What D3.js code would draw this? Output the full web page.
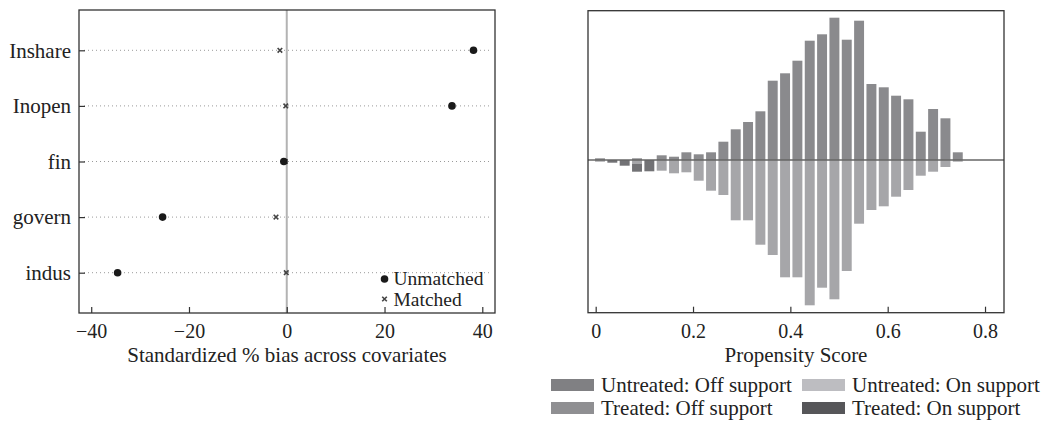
<!DOCTYPE html>
<html>
<head>
<meta charset="utf-8">
<script src="https://cdn.jsdelivr.net/npm/d3@7"></script>
<style>
    body { margin: 0; background: #fff; }
    text { font-family: "Liberation Serif", "Times New Roman", serif; fill: #222; }
    .axis .domain { display: none; }
    .axis line { stroke: #333; stroke-width: 1.2; }
    .axis text { font-size: 20px; fill: #222; }
</style>
</head>
<body>
<div id="chart"></div>
<script>

// left panel: standardized bias before / after matching
let covariates = ["Inshare", "Inopen", "fin", "govern", "indus"];
let unmatched = [38.2, 33.8, -0.6, -25.4, -34.6];
let matched = [-1.4, -0.2, -0.3, -2.2, -0.1];
let biasTicks = [-40, -20, 0, 20, 40];

// right panel: propensity score histogram (30 bins)
let binStart = -0.0038;
let binWidth = 0.02535;
let untreated = [1.7, 0, 0, 1.7, 0, 4.7, 3.3, 7.7, 5.7, 7.7, 18.3, 30.7, 38, 48.7, 79.3,
    86.7, 99.3, 119.3, 125.7, 142.3, 120.3, 139.3, 76, 72.7, 64.3, 60.7, 28.3, 51, 41.7, 7.7];
let treatedOff = [1.7, 0, 0, 4, 0, 10.7, 13.3, 12.3, 20.7, 30.7, 35, 60.3, 60.3, 84.7, 95,
    117.3, 117.3, 145.3, 127.7, 139.3, 111, 63.7, 50, 46.3, 36.7, 30, 15.7, 11.7, 7, 1.7];
let treatedOn = [0, 2.7, 5.7, 7.7, 11.3, 0, 0, 0, 0, 0, 0, 0, 0, 0, 0,
    0, 0, 0, 0, 0, 0, 0, 0, 0, 0, 0, 0, 0, 0, 0];
let scoreTicks = [0, 0.2, 0.4, 0.6, 0.8];
let legendLabels = ["Untreated: Off support", "Untreated: On support", "Treated: Off support", "Treated: On support"];
let legendColors = ["#808083", "#bdbdc1", "#8f8f92", "#565659"];

let svg = d3.select("#chart").append("svg")
    .attr("width", 1045)
    .attr("height", 421);


class BiasPlot {

    constructor(svg) {
        this.svg = svg;
        this.initVis();
    }

    initVis() {
        let vis = this;
        vis.left = 79; vis.right = 495; vis.top = 10; vis.bottom = 313;

        vis.x = d3.scaleLinear()
            .domain([-42.5, 42.6])
            .range([vis.left, vis.right]);
        vis.y = d3.scalePoint()
            .domain(covariates)
            .range([vis.top, vis.bottom])
            .padding(0.725);

        vis.g = vis.svg.append("g");

        // zero reference line
        vis.g.append("line")
            .attr("x1", vis.x(0)).attr("x2", vis.x(0))
            .attr("y1", vis.top).attr("y2", vis.bottom)
            .attr("stroke", "#b3b3b3")
            .attr("stroke-width", 2);

        // dotted guide per covariate
        vis.g.selectAll(".guide").data(covariates).enter().append("line")
            .attr("class", "guide")
            .attr("x1", vis.left + 5).attr("x2", vis.right - 3)
            .attr("y1", d => vis.y(d)).attr("y2", d => vis.y(d))
            .attr("stroke", "#9a9a9a")
            .attr("stroke-width", 1)
            .attr("stroke-dasharray", "1,3");

        vis.g.append("g")
            .attr("class", "axis")
            .attr("transform", `translate(0, ${vis.bottom})`)
            .call(d3.axisBottom(vis.x).tickValues(biasTicks).tickSize(-6).tickPadding(11));
        vis.g.append("g")
            .attr("class", "axis y-axis")
            .attr("transform", `translate(${vis.left}, 0)`)
            .call(d3.axisLeft(vis.y).tickSize(-6).tickPadding(8));
        vis.g.selectAll(".y-axis text").style("font-size", "21px");

        vis.g.append("rect")
            .attr("x", vis.left).attr("y", vis.top)
            .attr("width", vis.right - vis.left).attr("height", vis.bottom - vis.top)
            .attr("fill", "none").attr("stroke", "#333").attr("stroke-width", 1.3);

        vis.g.append("text")
            .attr("x", (vis.left + vis.right) / 2)
            .attr("y", 362)
            .attr("text-anchor", "middle")
            .style("font-size", "21px")
            .text("Standardized % bias across covariates");

        vis.updateVis();
    }

    cross(sel, cx, cy, s) {
        sel.append("path")
            .attr("d", `M${cx - s},${cy - s}L${cx + s},${cy + s}M${cx - s},${cy + s}L${cx + s},${cy - s}`)
            .attr("stroke", "#444")
            .attr("stroke-width", 1.6);
    }

    updateVis() {
        let vis = this;

        covariates.forEach((c, i) => {
            vis.cross(vis.g, vis.x(matched[i]), vis.y(c), 2.3);
        });
        vis.g.selectAll(".dot").data(covariates).enter().append("circle")
            .attr("class", "dot")
            .attr("cx", (d, i) => vis.x(unmatched[i]))
            .attr("cy", d => vis.y(d))
            .attr("r", 3.8)
            .attr("fill", "#1a1a1a");

        // legend (rows kept just far enough apart not to collide)
        let lg = vis.g.append("g").attr("transform", `translate(${vis.x(20)}, 0)`);
        lg.append("circle").attr("cx", 0).attr("cy", 279).attr("r", 3.8).attr("fill", "#1a1a1a");
        vis.cross(lg, 0, 299, 2.3);
        lg.append("text").attr("x", 9).attr("y", 285).style("font-size", "19.5px").text("Unmatched");
        lg.append("text").attr("x", 9).attr("y", 306).style("font-size", "19.5px").text("Matched");
    }
}


class PsHistogram {

    constructor(svg) {
        this.svg = svg;
        this.initVis();
    }

    initVis() {
        let vis = this;
        vis.left = 588; vis.right = 1004; vis.top = 10.7; vis.bottom = 312.7;

        vis.x = d3.scaleLinear()
            .domain([-0.0158, 0.839])
            .range([vis.left, vis.right]);
        vis.y = d3.scaleLinear()
            .domain([-152.7, 149.3])
            .range([vis.bottom, vis.top]);

        vis.g = vis.svg.append("g");

        vis.g.append("g")
            .attr("class", "axis")
            .attr("transform", `translate(0, ${vis.bottom})`)
            .call(d3.axisBottom(vis.x).tickValues(scoreTicks).tickFormat(d3.format("")).tickSize(-6).tickPadding(11));

        vis.g.append("text")
            .attr("x", (vis.left + vis.right) / 2)
            .attr("y", 362)
            .attr("text-anchor", "middle")
            .style("font-size", "21px")
            .text("Propensity Score");

        vis.updateVis();
    }

    updateVis() {
        let vis = this;
        let bins = untreated.map((u, i) => ({
            x0: binStart + i * binWidth,
            x1: binStart + (i + 1) * binWidth,
            u: u, off: treatedOff[i], on: treatedOn[i]
        }));
        let bx = d => vis.x(d.x0) + 1.2;
        let bw = d => vis.x(d.x1) - vis.x(d.x0) - 2.4;

        // untreated above the line
        vis.g.selectAll(".bar-u").data(bins.filter(d => d.u > 0)).enter().append("rect")
            .attr("class", "bar-u")
            .attr("x", bx).attr("width", bw)
            .attr("y", d => vis.y(d.u))
            .attr("height", d => vis.y(0) - vis.y(d.u))
            .attr("fill", "#8a8a8d");

        // treated below the line
        vis.g.selectAll(".bar-off").data(bins.filter(d => d.off > 0)).enter().append("rect")
            .attr("class", "bar-off")
            .attr("x", bx).attr("width", bw)
            .attr("y", vis.y(0))
            .attr("height", d => vis.y(-d.off) - vis.y(0))
            .attr("fill", "#a6a6a9");
        vis.g.selectAll(".bar-on").data(bins.filter(d => d.on > 0)).enter().append("rect")
            .attr("class", "bar-on")
            .attr("x", bx).attr("width", bw)
            .attr("y", d => vis.y(-d.off))
            .attr("height", d => vis.y(-d.off - d.on) - vis.y(-d.off))
            .attr("fill", "#727275");

        vis.g.append("line")
            .attr("x1", vis.left).attr("x2", vis.right)
            .attr("y1", vis.y(0)).attr("y2", vis.y(0))
            .attr("stroke", "#666").attr("stroke-width", 1.3);

        vis.g.append("rect")
            .attr("x", vis.left).attr("y", vis.top)
            .attr("width", vis.right - vis.left).attr("height", vis.bottom - vis.top)
            .attr("fill", "none").attr("stroke", "#333").attr("stroke-width", 1.3);

        // legend, two columns
        let lg = vis.g.selectAll(".legend").data(legendLabels).enter().append("g")
            .attr("class", "legend")
            .attr("transform", (d, i) => `translate(${i % 2 === 0 ? 551 : 802}, ${i < 2 ? 385 : 408})`);
        lg.append("rect")
            .attr("x", 0).attr("y", -6)
            .attr("width", 43).attr("height", 12)
            .attr("fill", (d, i) => legendColors[i]);
        lg.append("text")
            .attr("x", 50).attr("y", 7)
            .style("font-size", "21px")
            .text(d => d);
    }
}

new BiasPlot(svg);
new PsHistogram(svg);

</script>
</body>
</html>
